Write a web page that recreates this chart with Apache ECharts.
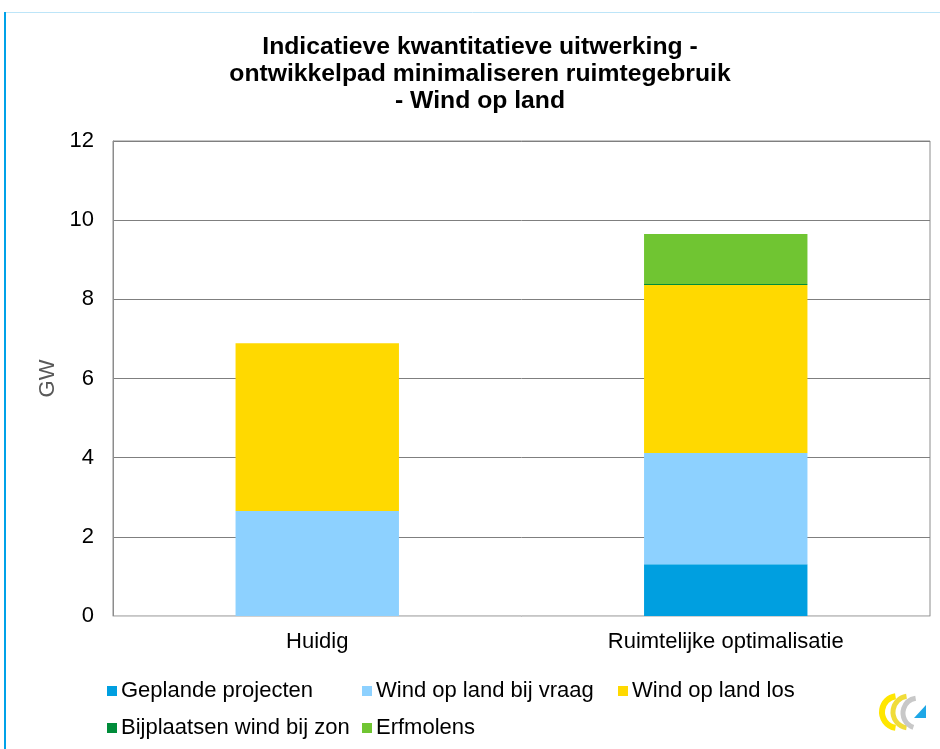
<!DOCTYPE html>
<html><head><meta charset="utf-8">
<script src="https://cdn.jsdelivr.net/npm/echarts@6/dist/echarts.min.js"></script>
<style>html,body{margin:0;padding:0;background:#fff}#c{width:940px;height:749px}</style>
</head><body><div id="c"></div>
<script>
const titleText = 'Indicatieve kwantitatieve uitwerking -\nontwikkelpad minimaliseren ruimtegebruik\n- Wind op land';
const categories = ['Huidig', 'Ruimtelijke optimalisatie'];
const seriesNames = ['Geplande projecten', 'Wind op land bij vraag', 'Wind op land los', 'Bijplaatsen wind bij zon', 'Erfmolens'];
const geplande = [0, 1.31];
const bijVraag = [2.65, 2.81];
const los = [4.24, 4.24];
const bijZon = [0, 0.03];
const erfmolens = [0, 1.26];
const yTicks = [0, 2, 4, 6, 8, 10, 12];
const colors = ['#009FE0', '#8DD1FF', '#FFD900', '#008C3A', '#70C532'];

const values = [geplande, bijVraag, los, bijZon, erfmolens];
const font = "'Liberation Sans', Arial, sans-serif";
const chart = echarts.init(document.getElementById('c'));

const legendPos = [[102, 675], [357, 675], [613, 675], [102, 712], [357, 712]];
const legends = seriesNames.map((n, i) => ({
  data: [n], left: legendPos[i][0], top: legendPos[i][1],
  itemWidth: 10, itemHeight: 10, icon: 'rect', itemGap: 0,
  textStyle: { fontFamily: font, fontSize: 22, color: '#000', padding: [0, 0, 0, -1] }
}));

chart.setOption({
  animation: false,
  color: colors,
  legend: legends,
  grid: { left: 113, right: 10, top: 141, bottom: 133, show: true, borderColor: '#8c8c8c', borderWidth: 1 },
  xAxis: {
    type: 'category', data: categories,
    axisLine: { lineStyle: { color: '#d0d0d0', width: 1 } },
    axisTick: { show: false },
    axisLabel: { fontFamily: font, fontSize: 22, color: '#000', margin: 15 }
  },
  yAxis: {
    type: 'value', min: 0, max: 12, interval: 2,
    name: 'GW', nameLocation: 'middle', nameRotate: 90, nameGap: 52,
    nameTextStyle: { fontFamily: font, fontSize: 22, color: '#595959' },
    axisLine: { show: true, lineStyle: { color: '#8c8c8c' } },
    axisTick: { show: false },
    splitLine: { lineStyle: { color: '#7f7f7f', width: 1 } },
    axisLabel: { fontFamily: font, fontSize: 22, color: '#000', margin: 19,
      formatter: v => yTicks.includes(v) ? String(v) : '' }
  },
  series: seriesNames.map((n, i) => ({
    name: n, type: 'bar', stack: 'total', data: values[i],
    barWidth: '40%',
    itemStyle: { color: colors[i] }
  })),
  graphic: [
    { type: 'text', x: 480, y: 34, scaleX: 1.03, originX: 0,
      style: { text: titleText, font: "bold 24px 'Liberation Sans', Arial, sans-serif", textAlign: 'center', lineHeight: 27, fill: '#000' } },
    { type: 'line', shape: { x1: 5, y1: 12.5, x2: 940, y2: 12.5 }, style: { stroke: '#BDE5F8', lineWidth: 1 } },
    { type: 'line', shape: { x1: 5, y1: 12, x2: 5, y2: 749 }, style: { stroke: '#00A2E8', lineWidth: 2 } },
    { type: 'arc', shape: { cx: 898, cy: 712, r: 16, startAngle: Math.PI * 0.55, endAngle: Math.PI * 1.45 }, style: { stroke: '#FFE600', lineWidth: 6, fill: null } },
    { type: 'arc', shape: { cx: 909, cy: 712, r: 16, startAngle: Math.PI * 0.55, endAngle: Math.PI * 1.45 }, style: { stroke: '#F0DC3A', lineWidth: 5, fill: null } },
    { type: 'arc', shape: { cx: 918, cy: 713, r: 15, startAngle: Math.PI * 0.6, endAngle: Math.PI * 1.45 }, style: { stroke: '#C8C8C8', lineWidth: 5, fill: null } },
    { type: 'polygon', shape: { points: [[914, 718], [926, 718], [926, 705]] }, style: { fill: '#1EA7E6' } }
  ]
});
</script></body></html>
